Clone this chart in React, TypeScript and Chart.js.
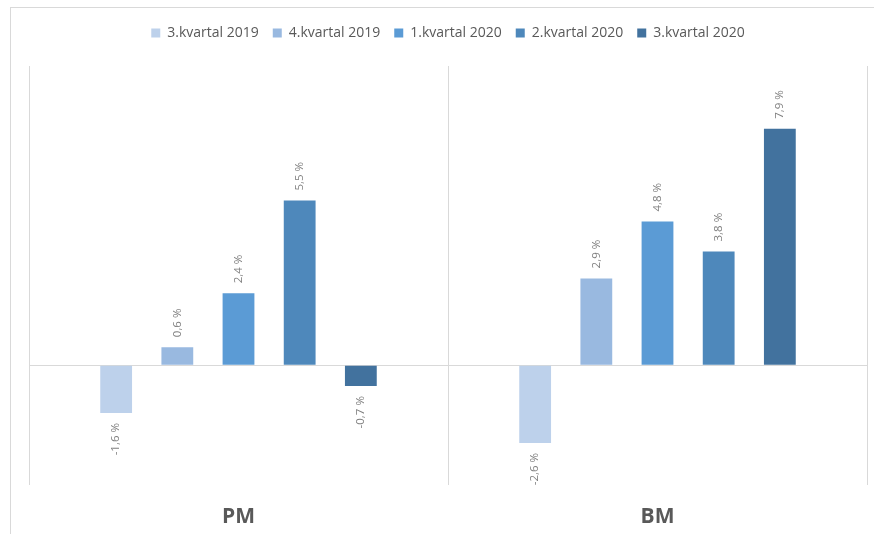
import React, { useEffect, useRef } from "react";
import { Chart, registerables } from "chart.js";

Chart.register(...registerables);

const categories = ["PM", "BM"];
const seriesLabels = ["3.kvartal 2019", "4.kvartal 2019", "1.kvartal 2020", "2.kvartal 2020", "3.kvartal 2020"];
const q3_2019 = [-1.6, -2.6];
const q4_2019 = [0.6, 2.9];
const q1_2020 = [2.4, 4.8];
const q2_2020 = [5.5, 3.8];
const q3_2020 = [-0.7, 7.9];
const seriesColors = ["#bdd1eb", "#99b9e0", "#5b9bd5", "#4e88bb", "#42729e"];

const FONT = "'Open Sans', 'Liberation Sans', sans-serif";

const legendMargin = {
  id: "legendMargin",
  beforeInit(chart: any) {
    const legend = chart.legend;
    const origFit = legend.fit;
    legend.fit = function () {
      origFit.bind(legend)();
      this.height += 16;
    };
  },
};

const labelPlugin = {
  id: "barLabels",
  afterDatasetsDraw(chart: any) {
    const ctx = chart.ctx;
    ctx.save();
    ctx.font = `11.5px ${FONT}`;
    ctx.fillStyle = "#808080";
    ctx.textBaseline = "middle";
    chart.data.datasets.forEach((ds: any, i: number) => {
      const meta = chart.getDatasetMeta(i);
      meta.data.forEach((bar: any, j: number) => {
        const v = ds.data[j];
        const txt = v.toFixed(1).replace(".", ",") + " %";
        ctx.save();
        if (v >= 0) {
          ctx.translate(bar.x, bar.y - 10);
          ctx.rotate(-Math.PI / 2);
          ctx.textAlign = "left";
        } else {
          ctx.translate(bar.x, bar.y + 10);
          ctx.rotate(-Math.PI / 2);
          ctx.textAlign = "right";
        }
        ctx.fillText(txt, 0, 0);
        ctx.restore();
      });
    });
    ctx.restore();
  },
};

export default function App() {
  const ref = useRef<HTMLCanvasElement>(null);
  useEffect(() => {
    const values = [q3_2019, q4_2019, q1_2020, q2_2020, q3_2020];
    const chart = new Chart(ref.current!, {
      type: "bar",
      data: {
        labels: categories,
        datasets: values.map((d, i) => ({
          label: seriesLabels[i],
          data: d,
          backgroundColor: seriesColors[i],
          borderWidth: 0,
          categoryPercentage: 0.73,
          barPercentage: 0.52,
        })),
      },
      options: {
        animation: false,
        responsive: false,
        maintainAspectRatio: false,
        layout: { padding: { left: 29, right: 7, top: 12, bottom: -16 } },
        plugins: {
          legend: {
            position: "top",
            labels: {
              boxWidth: 9,
              boxHeight: 9,
              padding: 14,
              color: "#595959",
              font: { family: FONT, size: 14 },
            },
          },
          tooltip: { enabled: false },
        },
        scales: {
          x: {
            grid: { color: "#d9d9d9", drawTicks: false, offset: true },
            border: { display: false },
            ticks: {
              color: "#595959",
              padding: 20,
              font: { family: FONT, size: 21, weight: "bold" },
            },
          },
          y: {
            min: -4,
            max: 10,
            ticks: { display: false, stepSize: 1 },
            border: { display: false },
            grid: {
              drawTicks: false,
              color: (c: any) => (c.tick && c.tick.value === 0 ? "#d9d9d9" : "transparent"),
            },
          },
        },
      },
      plugins: [legendMargin, labelPlugin],
    });
    return () => chart.destroy();
  }, []);
  return (
    <div style={{ position: "fixed", left: 0, top: 0, width: 874, height: 534, overflow: "hidden", background: "#fff" }}>
      <div style={{ position: "absolute", left: 10, top: 7, width: 900, height: 600, border: "1px solid #d9d9d9" }} />
      <canvas ref={ref} width={874} height={534} style={{ position: "absolute", left: 0, top: 0, width: 874, height: 534 }} />
    </div>
  );
}
